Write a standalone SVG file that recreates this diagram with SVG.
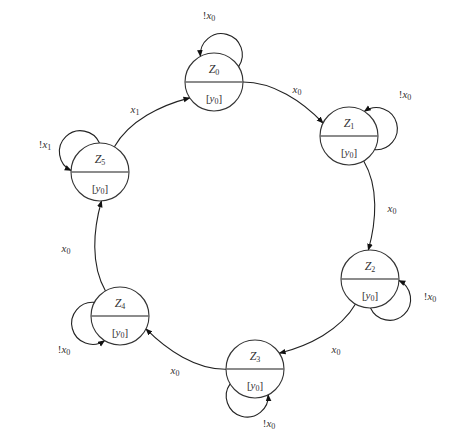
<svg xmlns="http://www.w3.org/2000/svg" width="472" height="447" viewBox="0 0 472 447">
<style>
.n{fill:#fff;stroke:#333;stroke-width:1.1}
.d{stroke:#666;stroke-width:1.3}
.e{fill:none;stroke:#222;stroke-width:1.1;marker-end:url(#ah)}
text{font-family:"Liberation Serif","DejaVu Serif",serif;fill:#333;text-anchor:middle}
.nt{font-size:12px;font-style:italic}
.yt{font-size:11px}
.lb{font-size:11px;font-style:italic}
.sub{font-size:8px;font-style:normal}
</style>
<defs>
<marker id="ah" viewBox="0 0 10 10" refX="9" refY="5" markerWidth="7" markerHeight="7" markerUnits="userSpaceOnUse" orient="auto">
<path d="M0,1 L10,5 L0,9 z" fill="#111"/>
</marker>
</defs>
<rect width="472" height="447" fill="#fff"/>
<g id="connectors">
<path class="e" d="M243,82 C273,82 302,101 323,123"/>
<path class="e" d="M363.7,161 C378.9,186.9 376.4,221.2 368.3,250.1"/>
<path class="e" d="M355.5,304.1 C340.5,330.1 308.4,345.9 279.3,353.2"/>
<path class="e" d="M226,369.3 C196,369.6 167.1,350.3 146,328.9"/>
<path class="e" d="M105.5,290.9 C90.5,264.9 93.2,229.8 101.5,201"/>
<path class="e" d="M114.4,146.8 C129.3,120.7 160.7,105.3 189.8,97.9"/>
<path class="e" d="M238.6,66.6 A21,21 0 1 0 200.4,56.4"/>
<path class="e" d="M374.6,149.6 A21,21 0 1 0 364.4,111.4"/>
<path class="e" d="M370.5,308 A21,21 0 1 0 399,280.5"/>
<path class="e" d="M230.1,383.9 A21,21 0 1 0 268.2,394.8"/>
<path class="e" d="M94.4,302.4 A21,21 0 1 0 104.6,340.6"/>
<path class="e" d="M99.5,143 A21,21 0 1 0 71,170.5"/>
<text class="lb" x="297" y="93">x<tspan class="sub" dy="2">0</tspan></text>
<text class="lb" x="392" y="212">x<tspan class="sub" dy="2">0</tspan></text>
<text class="lb" x="336" y="353">x<tspan class="sub" dy="2">0</tspan></text>
<text class="lb" x="175" y="374">x<tspan class="sub" dy="2">0</tspan></text>
<text class="lb" x="66" y="252">x<tspan class="sub" dy="2">0</tspan></text>
<text class="lb" x="135" y="113">x<tspan class="sub" dy="2">1</tspan></text>
<text class="lb" x="209" y="19"><tspan font-style="normal">!</tspan>x<tspan class="sub" dy="2">0</tspan></text>
<text class="lb" x="405" y="98"><tspan font-style="normal">!</tspan>x<tspan class="sub" dy="2">0</tspan></text>
<text class="lb" x="430" y="300"><tspan font-style="normal">!</tspan>x<tspan class="sub" dy="2">0</tspan></text>
<text class="lb" x="269" y="427"><tspan font-style="normal">!</tspan>x<tspan class="sub" dy="2">0</tspan></text>
<text class="lb" x="64" y="353"><tspan font-style="normal">!</tspan>x<tspan class="sub" dy="2">0</tspan></text>
<text class="lb" x="45" y="148"><tspan font-style="normal">!</tspan>x<tspan class="sub" dy="2">1</tspan></text>
</g>
<g id="Z0">
<circle class="n" cx="214" cy="82" r="29"/>
<line class="d" x1="185" y1="82" x2="243" y2="82"/>
<text class="nt" x="214" y="73">Z<tspan class="sub" dy="2">0</tspan></text>
<text class="yt" x="214" y="102">[<tspan font-style="italic">y</tspan><tspan class="sub" dy="2">0</tspan><tspan dy="-2">]</tspan></text>
</g>
<g id="Z1">
<circle class="n" cx="349" cy="136" r="29"/>
<line class="d" x1="320" y1="136" x2="378" y2="136"/>
<text class="nt" x="349" y="127">Z<tspan class="sub" dy="2">1</tspan></text>
<text class="yt" x="349" y="156">[<tspan font-style="italic">y</tspan><tspan class="sub" dy="2">0</tspan><tspan dy="-2">]</tspan></text>
</g>
<g id="Z2">
<circle class="n" cx="370" cy="279" r="29"/>
<line class="d" x1="341" y1="279" x2="399" y2="279"/>
<text class="nt" x="370" y="270">Z<tspan class="sub" dy="2">2</tspan></text>
<text class="yt" x="370" y="299">[<tspan font-style="italic">y</tspan><tspan class="sub" dy="2">0</tspan><tspan dy="-2">]</tspan></text>
</g>
<g id="Z3">
<circle class="n" cx="255" cy="369" r="29"/>
<line class="d" x1="226" y1="369" x2="284" y2="369"/>
<text class="nt" x="255" y="360">Z<tspan class="sub" dy="2">3</tspan></text>
<text class="yt" x="255" y="389">[<tspan font-style="italic">y</tspan><tspan class="sub" dy="2">0</tspan><tspan dy="-2">]</tspan></text>
</g>
<g id="Z4">
<circle class="n" cx="120" cy="316" r="29"/>
<line class="d" x1="91" y1="316" x2="149" y2="316"/>
<text class="nt" x="120" y="307">Z<tspan class="sub" dy="2">4</tspan></text>
<text class="yt" x="120" y="336">[<tspan font-style="italic">y</tspan><tspan class="sub" dy="2">0</tspan><tspan dy="-2">]</tspan></text>
</g>
<g id="Z5">
<circle class="n" cx="100" cy="172" r="29"/>
<line class="d" x1="71" y1="172" x2="129" y2="172"/>
<text class="nt" x="100" y="163">Z<tspan class="sub" dy="2">5</tspan></text>
<text class="yt" x="100" y="192">[<tspan font-style="italic">y</tspan><tspan class="sub" dy="2">0</tspan><tspan dy="-2">]</tspan></text>
</g>
</svg>
